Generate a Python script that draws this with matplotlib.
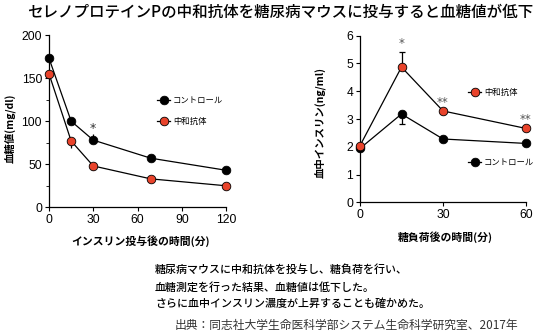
import matplotlib
matplotlib.use("Agg")
import matplotlib.pyplot as plt
from matplotlib.lines import Line2D
from matplotlib.ticker import MultipleLocator

plt.rcParams['font.family'] = ['Noto Sans CJK JP', 'DejaVu Sans']

# left chart: blood glucose after insulin
glu_time = [0, 15, 30, 69, 120]
glu_control = [173, 100, 78, 57, 43]
glu_antibody = [155, 77, 48, 33, 25]
glu_control_err_up = [0, 0, 7, 0, 0]
glu_antibody_err_down = [0, 8, 5, 0, 0]

# right chart: blood insulin after glucose load
ins_time = [0, 15, 30, 60]
ins_antibody = [2.04, 4.87, 3.29, 2.66]
ins_control = [1.94, 3.18, 2.28, 2.12]
ins_antibody_err_up = [0, 0.56, 0, 0]
ins_control_err_down = [0, 0.37, 0, 0]

RED = '#e8432b'
W, H = 539, 335


def fx(x):
    return x / W


def fy(y):
    return 1 - y / H


fig = plt.figure(figsize=(W / 100, H / 100), dpi=100)

tick_font = dict(family=['Liberation Sans', 'DejaVu Sans'], size=8.7)


def style_axes(ax):
    for s in ['top', 'right']:
        ax.spines[s].set_visible(False)
    for s in ['left', 'bottom']:
        ax.spines[s].set_linewidth(0.9)
    ax.tick_params(direction='out', length=3, width=0.8, pad=2)
    ax.tick_params(which='minor', direction='out', length=2, width=0.6)
    for lab in ax.get_xticklabels() + ax.get_yticklabels():
        lab.set_fontfamily(tick_font['family'])
        lab.set_fontsize(tick_font['size'])


# ---- left
ax1 = fig.add_axes([fx(49), fy(207.3), fx(226 - 49), (207.3 - 35) / H])
ax1.errorbar(glu_time, glu_control, yerr=[[0] * 5, glu_control_err_up], color='black', lw=0.9,
             elinewidth=0.9, capsize=0, zorder=3)
ax1.errorbar(glu_time, glu_antibody, yerr=[glu_antibody_err_down, [0] * 5], color='black', lw=0.9,
             elinewidth=0.9, capsize=0, zorder=3)
ax1.plot(glu_time, glu_control, 'o', color='black', ms=6.2, mec='black', mew=0.6, zorder=4, clip_on=False)
ax1.plot(glu_time, glu_antibody, 'o', color=RED, ms=6.2, mec='black', mew=0.6, zorder=4, clip_on=False)
ax1.set_xlim(0, 120)
ax1.set_ylim(0, 200)
ax1.set_xticks([0, 30, 60, 90, 120])
ax1.set_yticks([0, 50, 100, 150, 200])
ax1.yaxis.set_minor_locator(MultipleLocator(25))
style_axes(ax1)
ax1.text(30, 91, '*', ha='center', va='center', fontsize=9, color='#333333', family=['DejaVu Sans'])

h_ctrl = Line2D([], [], color='black', marker='o', ms=6.2, mec='black', mew=0.6, lw=0.9)
h_anti = Line2D([], [], color='black', marker='o', ms=6.2, mfc=RED, mec='black', mew=0.6, lw=0.9)

leg_kw = dict(frameon=False, fontsize=6, handlelength=1.6, handletextpad=0.3, borderaxespad=0,
              borderpad=0, loc='center left')
l1 = fig.legend([h_ctrl], ['コントロール'], bbox_to_anchor=(fx(157), fy(100)), **leg_kw)
l2 = fig.legend([h_anti], ['中和抗体'], bbox_to_anchor=(fx(157), fy(121)), **leg_kw)

fig.text(fx(10), fy(128), '血糖値(mg/dl)', rotation=90, ha='center', va='center',
         fontsize=7.5, fontweight='bold')
fig.text(fx(141), fy(241), 'インスリン投与後の時間(分)', ha='center', va='center',
         fontsize=7.8, fontweight='bold')

# ---- right
ax2 = fig.add_axes([fx(360), fy(202.3), fx(526 - 360), (202.3 - 35.7) / H])
ax2.errorbar(ins_time, ins_antibody, yerr=[[0] * 4, ins_antibody_err_up], color='black', lw=0.9,
             elinewidth=0.9, capsize=2, capthick=0.9, zorder=3)
ax2.errorbar(ins_time, ins_control, yerr=[ins_control_err_down, [0] * 4], color='black', lw=0.9,
             elinewidth=0.9, capsize=2, capthick=0.9, zorder=3)
ax2.plot(ins_time, ins_control, 'o', color='black', ms=6.2, mec='black', mew=0.6, zorder=4, clip_on=False)
ax2.plot(ins_time, ins_antibody, 'o', color=RED, ms=6.2, mec='black', mew=0.6, zorder=5, clip_on=False)
ax2.set_xlim(0, 60)
ax2.set_ylim(0, 6)
ax2.set_xticks([0, 30, 60])
ax2.set_yticks(range(7))
style_axes(ax2)
for t, v, s in [(15, 5.72, '*'), (30, 3.6, '**'), (60, 2.98, '**')]:
    ax2.text(t, v, s, ha='center', va='center', fontsize=8.5, color='#555555', family=['DejaVu Sans'])

l3 = fig.legend([h_anti], ['中和抗体'], bbox_to_anchor=(fx(468), fy(92)), **leg_kw)
l4 = fig.legend([h_ctrl], ['コントロール'], bbox_to_anchor=(fx(468), fy(162)), **leg_kw)

fig.text(fx(320), fy(123), '血中インスリン(ng/ml)', rotation=90, ha='center', va='center',
         fontsize=7.5, fontweight='bold')
fig.text(fx(445), fy(237), '糖負荷後の時間(分)', ha='center', va='center',
         fontsize=7.8, fontweight='bold')

# ---- title and notes
fig.text(fx(280), fy(12), 'セレノプロテインPの中和抗体を糖尿病マウスに投与すると血糖値が低下',
         ha='center', va='center', fontsize=11.2, fontweight='medium')
notes = ['糖尿病マウスに中和抗体を投与し、糖負荷を行い、',
         '血糖測定を行った結果、血糖値は低下した。',
         'さらに血中インスリン濃度が上昇することも確かめた。']
for i, line in enumerate(notes):
    fig.text(fx(155), fy(270 + 17 * i), line, ha='left', va='center', fontsize=7.9,
             fontweight='medium')
fig.text(fx(518), fy(325), '出典：同志社大学生命医科学部システム生命科学研究室、2017年',
         ha='right', va='center', fontsize=8.5, color='#333333')

fig.savefig('out.png', dpi=100)
